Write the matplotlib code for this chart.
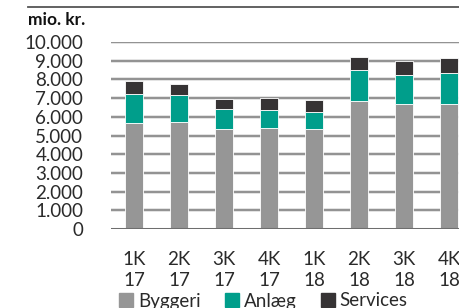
import numpy as np
import matplotlib
matplotlib.use("Agg")
import matplotlib.pyplot as plt
from matplotlib.patches import Patch

# quarters and series (mio. kr.)
quarters = ["1K\n17", "2K\n17", "3K\n17", "4K\n17", "1K\n18", "2K\n18", "3K\n18", "4K\n18"]
byggeri = [5650, 5720, 5330, 5420, 5350, 6840, 6680, 6680]
anlaeg = [1570, 1430, 1100, 940, 920, 1650, 1540, 1660]
services = [710, 600, 540, 640, 640, 720, 780, 800]
yticks = [0, 1000, 2000, 3000, 4000, 5000, 6000, 7000, 8000, 9000, 10000]
ylabels = ["0", "1.000", "2.000", "3.000", "4.000", "5.000", "6.000",
           "7.000", "8.000", "9.000", "10.000"]

c_bygg = "#969696"
c_anl = "#009e8b"
c_serv = "#363334"
c_txt = "#2a2a2a"

plt.rcParams['font.family'] = ['Lato', 'DejaVu Sans']

W, H = 459, 308
fig = plt.figure(figsize=(W / 100, H / 100), dpi=100)
ax = fig.add_axes([111 / W, (H - 229) / H, (W - 111) / W, (229 - 42) / H])

x = np.arange(len(quarters))
b = np.array(byggeri)
a = np.array(anlaeg)
s = np.array(services)
w = 0.4
ax.bar(x, b, w, color=c_bygg, edgecolor="white", linewidth=0.6, zorder=3)
ax.bar(x, a, w, bottom=b, color=c_anl, edgecolor="white", linewidth=0.6, zorder=3)
ax.bar(x, s, w, bottom=b + a, color=c_serv, edgecolor="white", linewidth=0.6, zorder=3)

# grid lines
for yv in yticks[1:]:
    ax.axhline(yv, color="#dddddd", linewidth=2.6, zorder=1)
    ax.axhline(yv, color="#8c8c8c", linewidth=1.3, zorder=2)
ax.axhline(0, color="#6e6e6e", linewidth=2.2, zorder=4)

ax.set_xlim(-0.51, 7.22)
ax.set_ylim(0, 10000)
for sp in ax.spines.values():
    sp.set_visible(False)
ax.set_yticks(yticks)
ax.set_yticklabels(ylabels, fontsize=13.5, color=c_txt)
ax.set_xticks(x)
ax.set_xticklabels(quarters, fontsize=13.5, color=c_txt, linespacing=1.25)
ax.tick_params(axis="y", length=0, pad=20)
ax.tick_params(axis="x", length=0, pad=16)

# header
fig.add_artist(plt.Line2D([28 / W, 1], [1 - 7 / H, 1 - 7 / H], color="#555555", linewidth=1.3))
fig.text(28 / W, 1 - 20 / H, "mio. kr.", fontsize=12.5, fontweight="bold",
         va="center", ha="left", color="#111111")

handles = [Patch(color=c_bygg, label="Byggeri"),
           Patch(color=c_anl, label="Anlæg"),
           Patch(color=c_serv, label="Services")]
fig.legend(handles=handles, loc="center left", bbox_to_anchor=(119 / W, 1 - 301 / H),
           ncol=3, frameon=False, handlelength=0.75, handleheight=0.75,
           handletextpad=0.25, columnspacing=1.3, borderpad=0, borderaxespad=0,
           prop={"size": 13.5}, labelcolor=c_txt)

fig.savefig("out.png", dpi=100)
